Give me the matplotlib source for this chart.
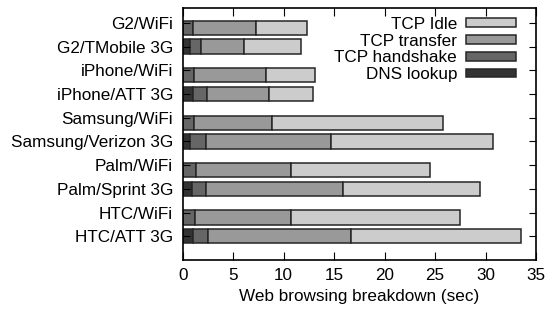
import numpy as np
import matplotlib
matplotlib.use("Agg")
import matplotlib.pyplot as plt

plt.rcParams['font.family'] = ['Liberation Sans', 'DejaVu Sans']
plt.rcParams['font.size'] = 12.3

# devices / networks, top to bottom
labels = [
    "G2/WiFi", "G2/TMobile 3G",
    "iPhone/WiFi", "iPhone/ATT 3G",
    "Samsung/WiFi", "Samsung/Verizon 3G",
    "Palm/WiFi", "Palm/Sprint 3G",
    "HTC/WiFi", "HTC/ATT 3G",
]
is_wifi = [True, False, True, False, True, False, True, False, True, False]

# seconds spent in each phase
dns_lookup = [0.0, 0.7, 0.0, 1.0, 0.0, 0.7, 0.0, 0.9, 0.0, 1.0]
tcp_handshake = [1.0, 1.15, 1.1, 1.4, 1.1, 1.55, 1.35, 1.4, 1.25, 1.45]
tcp_transfer = [6.3, 4.2, 7.1, 6.1, 7.7, 12.45, 9.4, 13.6, 9.45, 14.2]
tcp_idle = [5.0, 5.7, 4.85, 4.45, 17.0, 16.0, 13.75, 13.6, 16.8, 16.85]

series = [
    ("DNS lookup", dns_lookup, "#333333"),
    ("TCP handshake", tcp_handshake, "#666666"),
    ("TCP transfer", tcp_transfer, "#999999"),
    ("TCP Idle", tcp_idle, "#cccccc"),
]

fig = plt.figure(figsize=(5.54, 3.16), dpi=100)
ax = fig.add_axes([0.330, 0.177, 0.6375, 0.798])

ticks = np.arange(len(labels))
ypos = ticks + np.where(is_wifi, 0.21, 0.0)
left = np.zeros(len(labels))
handles = {}
for name, vals, color in series:
    vals = np.array(vals)
    h = ax.barh(ypos, vals, left=left, height=0.6, color=color,
                edgecolor="#262626", linewidth=1.1, label=name)
    handles[name] = h
    left += vals

ax.set_xlim(0, 35)
ax.set_ylim(10.0, -0.63)
ax.set_xticks(np.arange(0, 36, 5))
ax.set_yticks(ticks)
ax.set_yticklabels(labels)
ax.set_xlabel("Web browsing breakdown (sec)", labelpad=4)

ax.tick_params(axis="both", direction="in", length=5.8, width=0.8,
               top=True, right=True)
ax.tick_params(axis="x", pad=6)
ax.tick_params(axis="y", pad=7, length=5)
for s in ax.spines.values():
    s.set_linewidth(1.2)

order = ["TCP Idle", "TCP transfer", "TCP handshake", "DNS lookup"]
ax.legend([handles[n] for n in order], order, loc="upper right",
          bbox_to_anchor=(516 / 554, 1 - 17 / 316), bbox_transform=fig.transFigure,
          frameon=False, markerfirst=False, handlelength=2.9, handleheight=0.42,
          labelspacing=0.1, handletextpad=0.55, borderpad=0, borderaxespad=0)

fig.savefig("out.png", dpi=100)
